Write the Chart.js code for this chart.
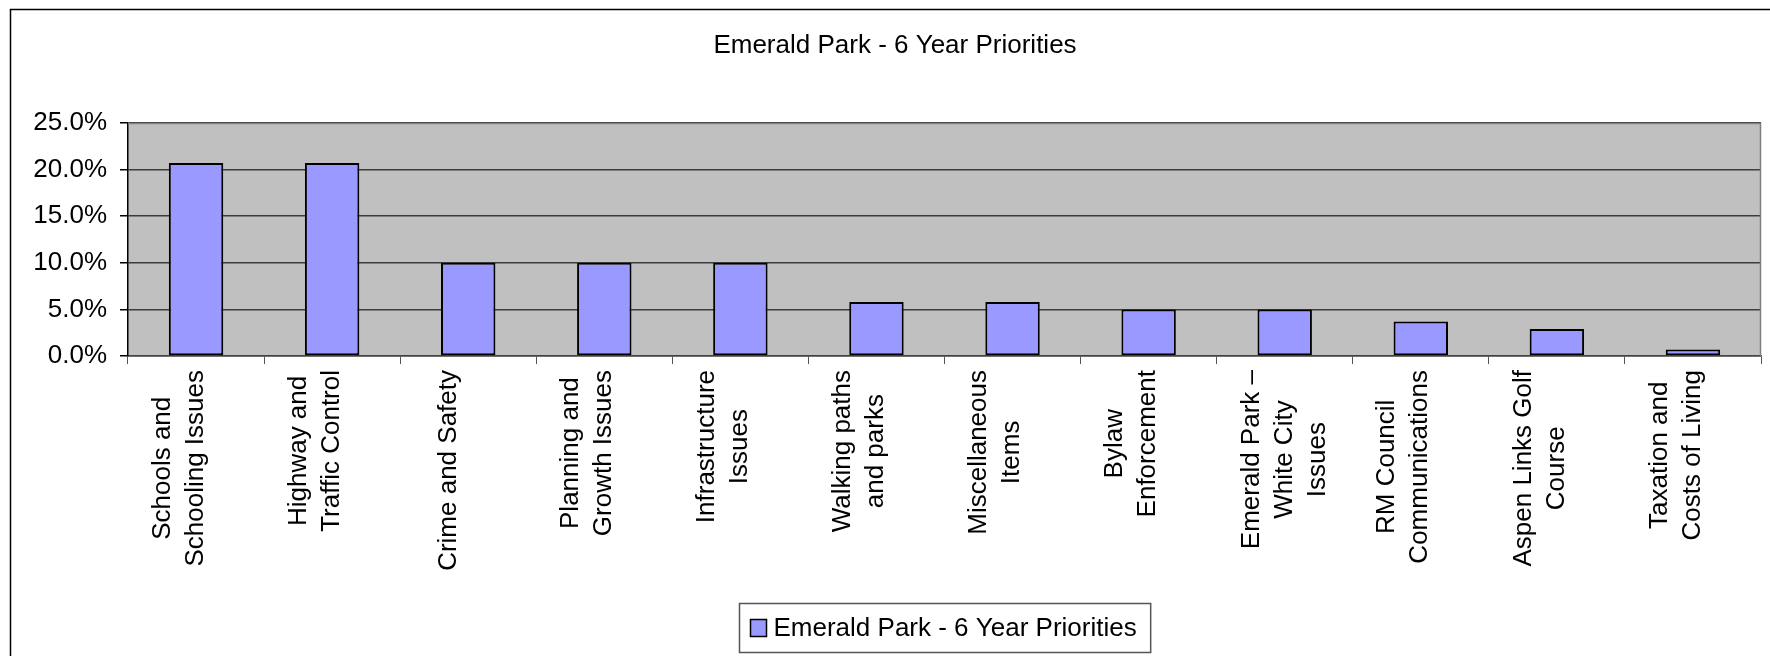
<!DOCTYPE html>
<html>
<head>
<meta charset="utf-8">
<title>Emerald Park - 6 Year Priorities</title>
<script src="https://cdn.jsdelivr.net/npm/chart.js@4.4.1/dist/chart.umd.min.js"></script>
<style>
  html, body { margin: 0; padding: 0; background: #fff; overflow: hidden; }
  canvas { display: block; }
</style>
</head>
<body>
<canvas id="priorityChart" width="1770" height="656"></canvas>
<script>
// ================== ДАННЫЕ ================== //

const chartTitle = 'Emerald Park - 6 Year Priorities';
const seriesName = 'Emerald Park - 6 Year Priorities';

// Категории (строки подписей как в оригинале)
const categories = [
  ['Schools and', 'Schooling Issues'],
  ['Highway and', 'Traffic Control'],
  ['Crime and Safety'],
  ['Planning and', 'Growth Issues'],
  ['Infrastructure', 'Issues'],
  ['Walking paths', 'and parks'],
  ['Miscellaneous', 'Items'],
  ['Bylaw', 'Enforcement'],
  ['Emerald Park –', 'White City', 'Issues'],
  ['RM Council', 'Communications'],
  ['Aspen Links Golf', 'Course'],
  ['Taxation and', 'Costs of Living']
];

// Значения, %
const priorityValues = [20.7, 20.7, 10.0, 10.0, 10.0, 5.8, 5.8, 5.0, 5.0, 3.7, 2.9, 0.7];

// Деления оси Y, %
const yTicks = [0, 5, 10, 15, 20, 25];

// ================== НАСТРОЙКИ ================== //

const CONFIG = {
  font: '"Liberation Sans", Arial, sans-serif',
  fontSize: 26,
  lineHeight: 33,
  // сдвиг блока подписи влево в зависимости от числа строк (как в Excel)
  labelShift: { 1: -19, 2: -17, 3: 0 },
  colors: {
    bar: '#9999ff',
    plot: '#c0c0c0',
    grid: '#3c3c3c',
    plotBorder: '#808080',
    text: '#000000'
  }
};

/**
 * Фон области построения, рамка, заголовок, подписи оси X и легенда
 */
const chartDecor = {
  id: 'chartDecor',
  beforeDraw(chart) {
    const { ctx, chartArea: a } = chart;
    ctx.save();
    ctx.fillStyle = '#ffffff';
    ctx.fillRect(0, 0, chart.width, chart.height);

    // внешняя рамка (видны только левая и верхняя стороны)
    ctx.strokeStyle = '#000';
    ctx.lineWidth = 1.5;
    ctx.beginPath();
    ctx.moveTo(10.5, chart.height);
    ctx.lineTo(10.5, 9.5);
    ctx.lineTo(chart.width, 9.5);
    ctx.stroke();

    ctx.fillStyle = CONFIG.colors.plot;
    ctx.fillRect(a.left, a.top, a.right - a.left, a.bottom - a.top);
    ctx.restore();
  },
  afterDraw(chart) {
    const { ctx, chartArea: a } = chart;
    const xs = chart.scales.x;
    ctx.save();

    // рамка области построения сверху и справа
    ctx.strokeStyle = CONFIG.colors.plotBorder;
    ctx.lineWidth = 1.5;
    ctx.beginPath();
    ctx.moveTo(a.left, a.top + 0.5);
    ctx.lineTo(a.right - 0.5, a.top + 0.5);
    ctx.lineTo(a.right - 0.5, a.bottom);
    ctx.stroke();

    ctx.font = `${CONFIG.fontSize}px ${CONFIG.font}`;
    ctx.fillStyle = CONFIG.colors.text;

    // заголовок
    ctx.textAlign = 'center';
    ctx.textBaseline = 'middle';
    ctx.fillText(chartTitle, 895, 46);

    // подписи категорий, повернутые на 90°
    const labelTop = xs.top + 14;
    categories.forEach((lines, i) => {
      const cx = xs.getPixelForValue(i) + (CONFIG.labelShift[lines.length] || 0);
      const maxW = Math.max(...lines.map(l => ctx.measureText(l).width));
      lines.forEach((line, j) => {
        const lx = cx + (j - (lines.length - 1) / 2) * CONFIG.lineHeight;
        ctx.save();
        ctx.translate(lx, labelTop + maxW / 2);
        ctx.rotate(-Math.PI / 2);
        ctx.textAlign = 'center';
        ctx.textBaseline = 'middle';
        ctx.fillText(line, 0, 0);
        ctx.restore();
      });
    });

    // легенда в рамке
    const textW = ctx.measureText(seriesName).width;
    const boxW = textW + 48;
    const boxH = 49;
    const boxX = Math.round((a.left + a.right) / 2 - boxW / 2) + 0.5;
    const boxY = 603.5;
    ctx.strokeStyle = '#555';
    ctx.lineWidth = 1.5;
    ctx.strokeRect(boxX, boxY, boxW, boxH);
    ctx.fillStyle = CONFIG.colors.bar;
    ctx.fillRect(boxX + 11, boxY + 16, 16, 17);
    ctx.strokeStyle = '#000';
    ctx.lineWidth = 1.5;
    ctx.strokeRect(boxX + 11, boxY + 16, 16, 17);
    ctx.fillStyle = CONFIG.colors.text;
    ctx.textAlign = 'left';
    ctx.fillText(seriesName, boxX + 34, boxY + boxH / 2 + 1);

    ctx.restore();
  }
};

// ================== ГРАФИК ================== //

function renderChart() {
  const ctx = document.getElementById('priorityChart').getContext('2d');

  return new Chart(ctx, {
    type: 'bar',
    data: {
      labels: categories,
      datasets: [{
        label: seriesName,
        data: priorityValues,
        backgroundColor: CONFIG.colors.bar,
        borderColor: '#000',
        borderWidth: 2,
        borderSkipped: false,
        categoryPercentage: 1,
        barPercentage: 0.4
      }]
    },
    options: {
      responsive: false,
      animation: false,
      layout: {
        padding: { top: 123, right: 9, bottom: 0, left: 0 }
      },
      plugins: {
        legend: { display: false },
        title: { display: false },
        tooltip: { enabled: false }
      },
      scales: {
        x: {
          offset: true,
          grid: {
            offset: true,
            drawOnChartArea: false,
            drawTicks: true,
            tickLength: 8,
            color: '#555'
          },
          border: { display: true, color: '#444', width: 1.5 },
          ticks: { display: false },
          afterFit: scale => { scale.height = 300; }
        },
        y: {
          min: 0,
          max: 25,
          afterBuildTicks: scale => {
            scale.ticks = yTicks.map(v => ({ value: v }));
          },
          grid: {
            color: CONFIG.colors.grid,
            lineWidth: 1.5,
            tickLength: 8,
            tickColor: '#000'
          },
          border: { display: true, color: '#000', width: 1.5 },
          ticks: {
            padding: 13,
            color: CONFIG.colors.text,
            font: { family: CONFIG.font, size: CONFIG.fontSize },
            callback: v => v.toFixed(1) + '%'
          },
          afterFit: scale => { scale.width = 128; }
        }
      }
    },
    plugins: [chartDecor]
  });
}

document.addEventListener('DOMContentLoaded', renderChart);
</script>
</body>
</html>
